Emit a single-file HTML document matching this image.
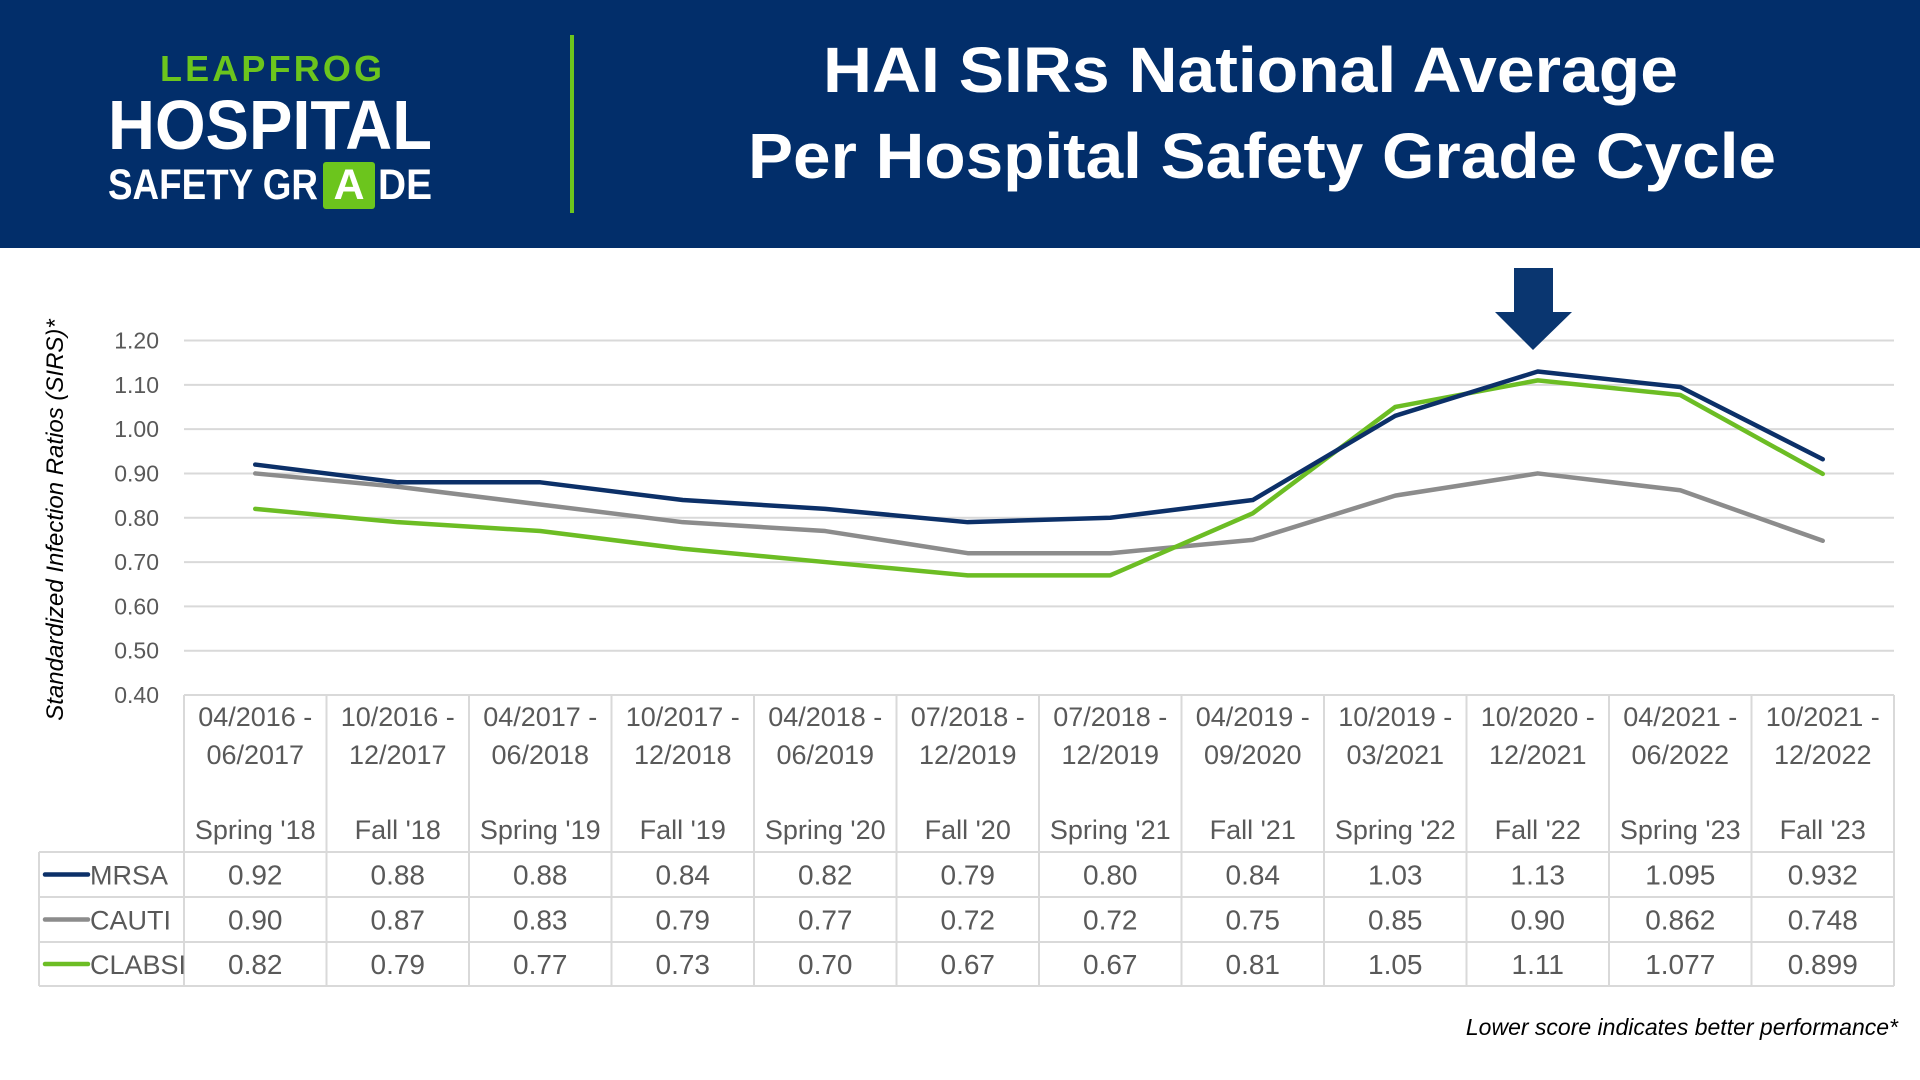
<!DOCTYPE html>
<html><head><meta charset="utf-8"><style>
html,body{margin:0;padding:0;width:1920px;height:1080px;background:#fff;overflow:hidden;font-family:"Liberation Sans",sans-serif}
svg{display:block}
</style></head><body>
<svg width="1920" height="1080" viewBox="0 0 1920 1080">
<rect x="0" y="0" width="1920" height="248" fill="#022e6a"/>
<g>
<text x="160" y="81" font-size="36" font-weight="bold" fill="#6cc51d" textLength="222" lengthAdjust="spacing">LEAPFROG</text>
<text x="108" y="149" font-size="70" font-weight="bold" fill="#fff" textLength="324" lengthAdjust="spacingAndGlyphs">HOSPITAL</text>
<rect x="323" y="162" width="52" height="47" rx="3" fill="#6cc51d"/>
<text x="108" y="199" font-size="43" font-weight="bold" fill="#fff" textLength="210" lengthAdjust="spacingAndGlyphs">SAFETY GR</text>
<text x="349" y="199" text-anchor="middle" font-size="43" font-weight="bold" fill="#fff">A</text>
<text x="378" y="199" font-size="43" font-weight="bold" fill="#fff" textLength="54" lengthAdjust="spacingAndGlyphs">DE</text>
</g>
<rect x="570" y="35" width="4" height="178" fill="#6cc51d"/>
<text x="823" y="92" font-size="64" font-weight="bold" fill="#fff" textLength="855" lengthAdjust="spacingAndGlyphs">HAI SIRs National Average</text>
<text x="748" y="178" font-size="64" font-weight="bold" fill="#fff" textLength="1028" lengthAdjust="spacingAndGlyphs">Per Hospital Safety Grade Cycle</text>
<g id="grid"></g>
<g id="lines"></g>
<g id="table"></g>
<polygon points="1514,268 1553,268 1553,312 1572,312 1533,350 1495,312 1514,312" fill="#0a3670"/>
<text transform="translate(63,520) rotate(-90)" text-anchor="middle" font-size="24" font-style="italic" fill="#000">Standardized  Infection Ratios (SIRS)*</text>
<text x="1898" y="1035" text-anchor="end" font-size="23" font-style="italic" fill="#000">Lower score indicates better performance*</text>
</svg>
<script>
const periods1 = ["04/2016 -","10/2016 -","04/2017 -","10/2017 -","04/2018 -","07/2018 -","07/2018 -","04/2019 -","10/2019 -","10/2020 -","04/2021 -","10/2021 -"];
const periods2 = ["06/2017","12/2017","06/2018","12/2018","06/2019","12/2019","12/2019","09/2020","03/2021","12/2021","06/2022","12/2022"];
const cycles = ["Spring '18","Fall '18","Spring '19","Fall '19","Spring '20","Fall '20","Spring '21","Fall '21","Spring '22","Fall '22","Spring '23","Fall '23"];
const mrsa = [0.92,0.88,0.88,0.84,0.82,0.79,0.80,0.84,1.03,1.13,1.095,0.932];
const cauti = [0.90,0.87,0.83,0.79,0.77,0.72,0.72,0.75,0.85,0.90,0.862,0.748];
const clabsi = [0.82,0.79,0.77,0.73,0.70,0.67,0.67,0.81,1.05,1.11,1.077,0.899];
const mrsaLabels = ["0.92","0.88","0.88","0.84","0.82","0.79","0.80","0.84","1.03","1.13","1.095","0.932"];
const cautiLabels = ["0.90","0.87","0.83","0.79","0.77","0.72","0.72","0.75","0.85","0.90","0.862","0.748"];
const clabsiLabels = ["0.82","0.79","0.77","0.73","0.70","0.67","0.67","0.81","1.05","1.11","1.077","0.899"];
const yTicks = [0.4,0.5,0.6,0.7,0.8,0.9,1.0,1.1,1.2];
const yTickLabels = ["0.40","0.50","0.60","0.70","0.80","0.90","1.00","1.10","1.20"];

const NS="http://www.w3.org/2000/svg";
const L=184,R=1894,T=340.5,B=695;
const colW=(R-L)/cycles.length;
const x=i=>L+colW*(i+0.5);
const y=v=>B-(v-0.4)/(1.2-0.4)*(B-T);
function mk(tag,attrs,parent,txt){const e=document.createElementNS(NS,tag);for(const k in attrs)e.setAttribute(k,attrs[k]);if(txt!==undefined)e.textContent=txt;parent.appendChild(e);return e;}
const grid=document.getElementById('grid');
yTicks.forEach((v,i)=>{
  if(i>0){const g=mk('line',{x1:L,x2:R,y1:y(v),y2:y(v),stroke:'#d9d9d9','stroke-width':2},grid);
  
  }
  const t=mk('text',{x:159,y:y(v)+8,'text-anchor':'end','font-size':23,fill:'#595959'},grid,yTickLabels[i]);
  
  
});
const lines=document.getElementById('lines');
const series=[[cauti,'#8c8c8c','cauti-line'],[clabsi,'#6cbd24','clabsi-line'],[mrsa,'#0c3068','mrsa-line']];
series.forEach(s=>{
  const p=mk('polyline',{points:s[0].map((v,i)=>x(i)+','+y(v)).join(' '),fill:'none',stroke:s[1],'stroke-width':4.5,'stroke-linejoin':'round','stroke-linecap':'round'},lines);
  
  
});
const tb=document.getElementById('table');
const tc='#d9d9d9';
const rowsY=[852,897,942,986];
for(let i=0;i<=cycles.length;i++){
  const xx=L+colW*i;
  const l=mk('line',{x1:xx,x2:xx,y1:B,y2:986,stroke:tc,'stroke-width':2},tb);
  
  
}
const topBorder=mk('line',{x1:L,x2:R,y1:B,y2:B,stroke:tc,'stroke-width':2},tb);


rowsY.forEach(yy=>{
  const l=mk('line',{x1:39,x2:R,y1:yy,y2:yy,stroke:tc,'stroke-width':2},tb);
  
  
});
const lb=mk('line',{x1:39,x2:39,y1:852,y2:986,stroke:tc,'stroke-width':2},tb);


cycles.forEach((c,i)=>{
  const a=mk('text',{x:x(i),y:726,'text-anchor':'middle','font-size':27,fill:'#595959'},tb,periods1[i]);
  
  
  const b=mk('text',{x:x(i),y:764,'text-anchor':'middle','font-size':27,fill:'#595959'},tb,periods2[i]);
  
  
  const d=mk('text',{x:x(i),y:839,'text-anchor':'middle','font-size':27,fill:'#595959'},tb,c);
  
  
});
const rows=[[mrsaLabels,'MRSA','#0c3068'],[cautiLabels,'CAUTI','#8c8c8c'],[clabsiLabels,'CLABSI','#6cbd24']];
rows.forEach((r,ri)=>{
  const cy=(rowsY[ri]+rowsY[ri+1])/2;
  const k=mk('line',{x1:45,x2:88,y1:cy,y2:cy,stroke:r[2],'stroke-width':4.5,'stroke-linecap':'round'},tb);
  
  
  const n=mk('text',{x:90,y:cy+10,'font-size':27,fill:'#595959'},tb,r[1]);
  
  
  r[0].forEach((v,i)=>{
    const t=mk('text',{x:x(i),y:cy+10,'text-anchor':'middle','font-size':28,fill:'#595959'},tb,v);
    
    
  });
});
</script>
</body></html>
